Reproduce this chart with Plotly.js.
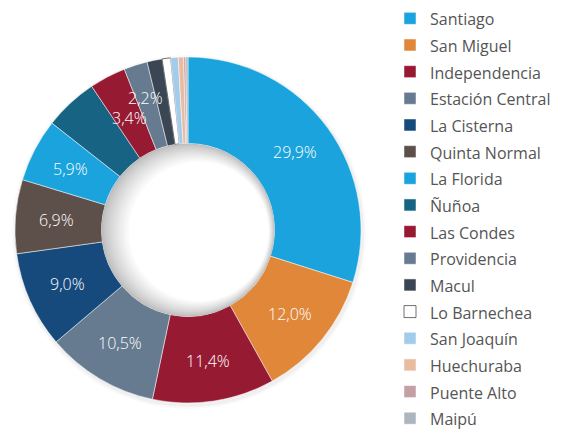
<!DOCTYPE html>
<html>
<head>
<meta charset="utf-8">
<script src="https://cdn.plot.ly/plotly-3.0.1.min.js"></script>
<style>html,body{margin:0;padding:0;background:#fff;}#chart{width:567px;height:430px;}</style>
</head>
<body>
<div id="chart"></div>
<script>
// ---- data ----
var comunas = ["Santiago", "San Miguel", "Independencia", "Estación Central", "La Cisterna",
  "Quinta Normal", "La Florida", "Ñuñoa", "Las Condes", "Providencia", "Macul",
  "Lo Barnechea", "San Joaquín", "Huechuraba", "Puente Alto", "Maipú"];
var porcentajes = [29.9, 12.0, 11.4, 10.5, 9.0, 6.9, 5.9, 5.0, 3.4, 2.2, 1.4, 0.8, 0.7, 0.5, 0.2, 0.2];
var etiquetas = ["29,9%", "12,0%", "11,4%", "10,5%", "9,0%", "6,9%", "5,9%", "", "3,4%", "2,2%", "", "", "", "", "", ""];
var colores = ["#1aa3dc", "#e0873a", "#971a33", "#667b90", "#164a7c", "#5d4f49", "#1aa3dc", "#176383",
  "#971a33", "#667b90", "#3b4654", "#ffffff", "#a3cbea", "#e9bca0", "#c49fa4", "#adb5bf"];

// ---- geometry ----
var W = 567, H = 430;
var cx = 188, cy = 230, R = 173;
var holeR = 86.5;

var lineColors = colores.map(function (c) { return c === "#ffffff" ? "#333333" : "#ffffff"; });
var lineWidths = colores.map(function (c) { return c === "#ffffff" ? 0.7 : 0.5; });
var legendLabels = comunas.map(function (c) { return '<span style="font-size:16px">' + c + '</span>'; });

var pie = {
  type: "pie",
  labels: legendLabels,
  values: porcentajes,
  textinfo: "none",
  sort: false,
  direction: "clockwise",
  rotation: 0,
  hole: holeR / R,
  marker: { colors: colores, line: { color: lineColors, width: lineWidths } },
  hoverinfo: "none",
  domain: { x: [(cx - R) / W, (cx + R) / W], y: [1 - (cy + R) / H, 1 - (cy - R) / H] }
};

// ---- percentage labels placed at each slice's mid angle (computed from the values) ----
var total = porcentajes.reduce(function (a, b) { return a + b; }, 0);
var labR = 132;
var cum = 0, labs = [];
porcentajes.forEach(function (v, i) {
  var mid = (cum + v / 2) / total * 2 * Math.PI;
  cum += v;
  if (etiquetas[i]) labs.push({ i: i, a: mid, r: labR, w: etiquetas[i].length * 8.6, h: 16 });
});
function pos(l) { return { x: cx + l.r * Math.sin(l.a), y: cy - l.r * Math.cos(l.a) }; }
for (var k = 1; k < labs.length; k++) {
  var p1 = pos(labs[k - 1]), p2 = pos(labs[k]);
  if (Math.abs(p1.x - p2.x) < (labs[k].w + labs[k - 1].w) / 2 && Math.abs(p1.y - p2.y) < labs[k].h) {
    labs[k - 1].r -= 6; labs[k].r += 7;
  }
}
var annotations = labs.map(function (l) {
  var p = pos(l);
  return { xref: "x", yref: "y", x: p.x, y: p.y, text: etiquetas[l.i], showarrow: false,
    font: { family: "Open Sans", size: 16, color: "#ffffff", weight: 300 }, xanchor: "center", yanchor: "middle" };
});

// ---- hole shading (inner shadow) and faint outer shadow ----
var shapes = [];
[[177, 0.025], [175, 0.035]].forEach(function (s) {
  shapes.push({ type: "circle", layer: "below", xref: "x", yref: "y",
    x0: cx - s[0] + 1, x1: cx + s[0] + 1, y0: cy - s[0] + 2, y1: cy + s[0] + 2,
    fillcolor: "rgba(0,0,0," + s[1] + ")", line: { width: 0 } });
});
var N = 24;
for (var i = 0; i <= N; i++) {
  var t = i / N;
  var r = holeR - 17 * t;
  var ox = 11 * t, oy = 1.5 * t;
  var e = Math.pow(t, 0.8);
  var g = Math.round(188 + (255 - 188) * e);
  shapes.push({ type: "circle", layer: "above", xref: "x", yref: "y",
    x0: cx - r + ox, x1: cx + r + ox, y0: cy - r + oy, y1: cy + r + oy,
    fillcolor: "rgb(" + g + "," + g + "," + g + ")", line: { width: 0 } });
}

var layout = {
  width: W, height: H,
  margin: { l: 0, r: 0, t: 0, b: 0 },
  paper_bgcolor: "#ffffff",
  plot_bgcolor: "rgba(0,0,0,0)",
  showlegend: true,
  xaxis: { range: [0, W], visible: false, fixedrange: true },
  yaxis: { range: [H, 0], visible: false, fixedrange: true },
  legend: {
    x: 390 / W, xanchor: "left",
    y: 0.995, yanchor: "top",
    font: { family: "Open Sans", size: 18.2, color: "#555555" },
    bgcolor: "rgba(0,0,0,0)",
    borderwidth: 0,
    traceorder: "normal"
  },
  shapes: shapes,
  annotations: annotations
};

Plotly.newPlot("chart", [pie], layout, { displayModeBar: false, staticPlot: true });
</script>
</body>
</html>
